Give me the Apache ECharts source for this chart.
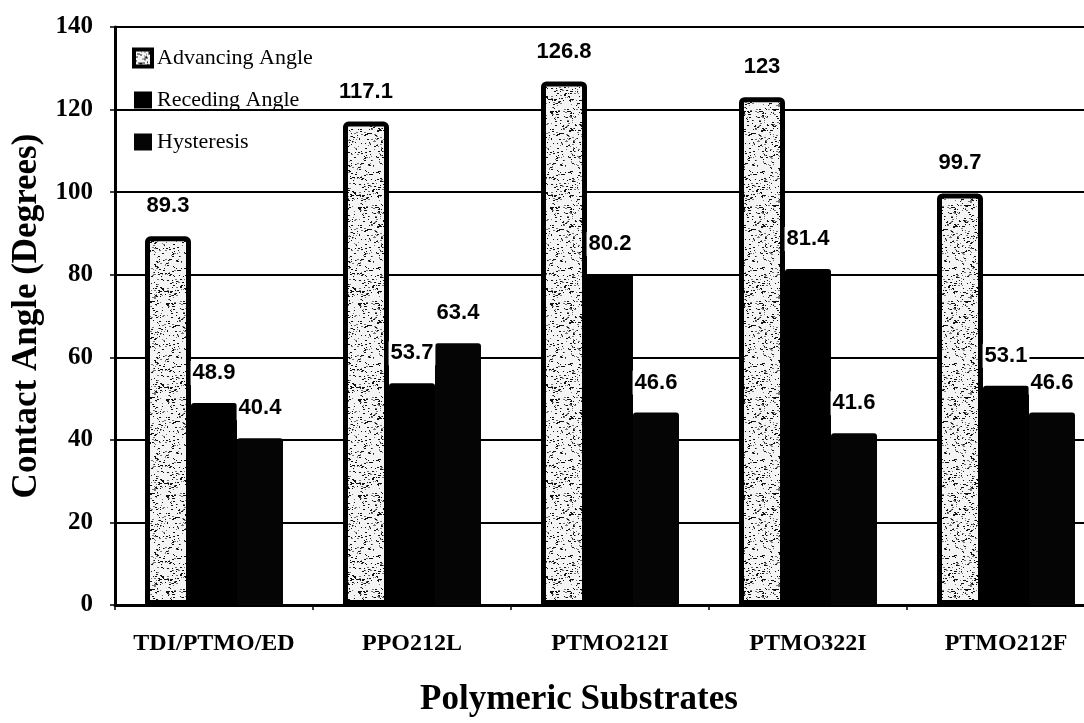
<!DOCTYPE html>
<html>
<head>
<meta charset="utf-8">
<script src="https://cdn.jsdelivr.net/npm/echarts@6/dist/echarts.min.js"></script>
<style>
  html, body { margin: 0; padding: 0; background: #fff; }
  #chart { width: 1084px; height: 723px; }
</style>
</head>
<body>
<div id="chart"></div>
<script>
// Contact angles of the polymeric substrates (degrees)
const categories = ['TDI/PTMO/ED', 'PPO212L', 'PTMO212I', 'PTMO322I', 'PTMO212F'];
const advancingAngle = [89.3, 117.1, 126.8, 123, 99.7];
const recedingAngle = [48.9, 53.7, 80.2, 81.4, 53.1];
const hysteresis = [40.4, 63.4, 46.6, 41.6, 46.6];
const seriesNames = ['Advancing Angle', 'Receding Angle', 'Hysteresis'];
const yMin = 0, yMax = 140, yStep = 20;

// Speckled grey fill for the advancing-angle bars
function makeStipple() {
  const c = document.createElement('canvas');
  c.width = 48; c.height = 96;
  const g = c.getContext('2d');
  g.fillStyle = '#f4f4f4';
  g.fillRect(0, 0, c.width, c.height);
  let s = 12345;
  const next = () => { s = (s * 16807) % 2147483647; return s / 2147483647; };
  for (let i = 0; i < 520; i++) {
    const x = Math.floor(next() * c.width);
    const y = Math.floor(next() * c.height);
    g.fillStyle = next() < 0.6 ? '#111' : '#777';
    g.fillRect(x, y, next() < 0.5 ? 2 : 1, 1);
  }
  return c;
}

const chart = echarts.init(document.getElementById('chart'), null, { renderer: 'canvas' });

const valueLabel = {
  show: true,
  position: 'top',
  distance: 18,
  fontFamily: 'Liberation Sans, Arial, sans-serif',
  fontSize: 22,
  fontWeight: 'bold',
  color: '#000',
  lineHeight: 22,
  backgroundColor: '#fff',
  padding: [1, 2]
};

const serif = 'Liberation Serif, Times New Roman, serif';

chart.setOption({
  animation: false,
  backgroundColor: '#fff',
  grid: {
    left: 115,
    right: -21,
    top: 27,
    bottom: 118,
    containLabel: false,
    outerBoundsMode: 'none'
  },
  legend: {
    orient: 'vertical',
    left: 132,
    top: 46,
    padding: 0,
    icon: 'rect',
    itemWidth: 18,
    itemHeight: 17,
    itemGap: 18,
    textStyle: { fontFamily: serif, fontSize: 22, color: '#000', lineHeight: 24 },
    data: [
      { name: seriesNames[0], itemStyle: { borderWidth: 4, borderColor: '#000' } },
      { name: seriesNames[1] },
      { name: seriesNames[2] }
    ]
  },
  xAxis: {
    type: 'category',
    data: categories,
    name: 'Polymeric Substrates',
    nameLocation: 'middle',
    nameGap: 77,
    nameTextStyle: {
      fontFamily: serif, fontSize: 35, fontWeight: 'bold', color: '#000',
      padding: [0, 62, 0, 0]
    },
    axisLine: { lineStyle: { color: '#000', width: 3 } },
    axisTick: { show: true, length: 5, inside: false, lineStyle: { color: '#000', width: 1.5 } },
    axisLabel: {
      interval: 0,
      margin: 27,
      fontFamily: serif, fontSize: 24, fontWeight: 'bold', color: '#000'
    },
    splitLine: { show: false }
  },
  yAxis: {
    type: 'value',
    min: yMin,
    max: yMax,
    interval: yStep,
    name: 'Contact Angle (Degrees)',
    nameLocation: 'middle',
    nameGap: 70,
    nameTextStyle: { fontFamily: serif, fontSize: 35, fontWeight: 'bold', color: '#000' },
    axisLine: { show: true, lineStyle: { color: '#000', width: 3 } },
    axisTick: { show: true, length: 5, lineStyle: { color: '#000', width: 1.5 } },
    axisLabel: {
      margin: 22,
      fontFamily: serif, fontSize: 25, fontWeight: 'bold', color: '#000'
    },
    splitLine: { show: true, lineStyle: { color: '#000', width: 2 } }
  },
  series: [
    {
      name: seriesNames[0],
      type: 'bar',
      data: advancingAngle,
      barWidth: 46,
      barGap: '0%',
      itemStyle: {
        color: { image: makeStipple(), repeat: 'repeat' },
        borderColor: '#000',
        borderWidth: 5,
        borderRadius: [3, 3, 0, 0]
      },
      label: valueLabel
    },
    {
      name: seriesNames[1],
      type: 'bar',
      data: recedingAngle,
      barWidth: 46,
      barGap: '0%',
      itemStyle: { color: '#000', borderRadius: [3, 3, 0, 0] },
      label: valueLabel
    },
    {
      name: seriesNames[2],
      type: 'bar',
      data: hysteresis,
      barWidth: 46,
      barGap: '0%',
      itemStyle: { color: '#050505', borderRadius: [3, 3, 0, 0] },
      label: valueLabel
    }
  ]
});
</script>
</body>
</html>
